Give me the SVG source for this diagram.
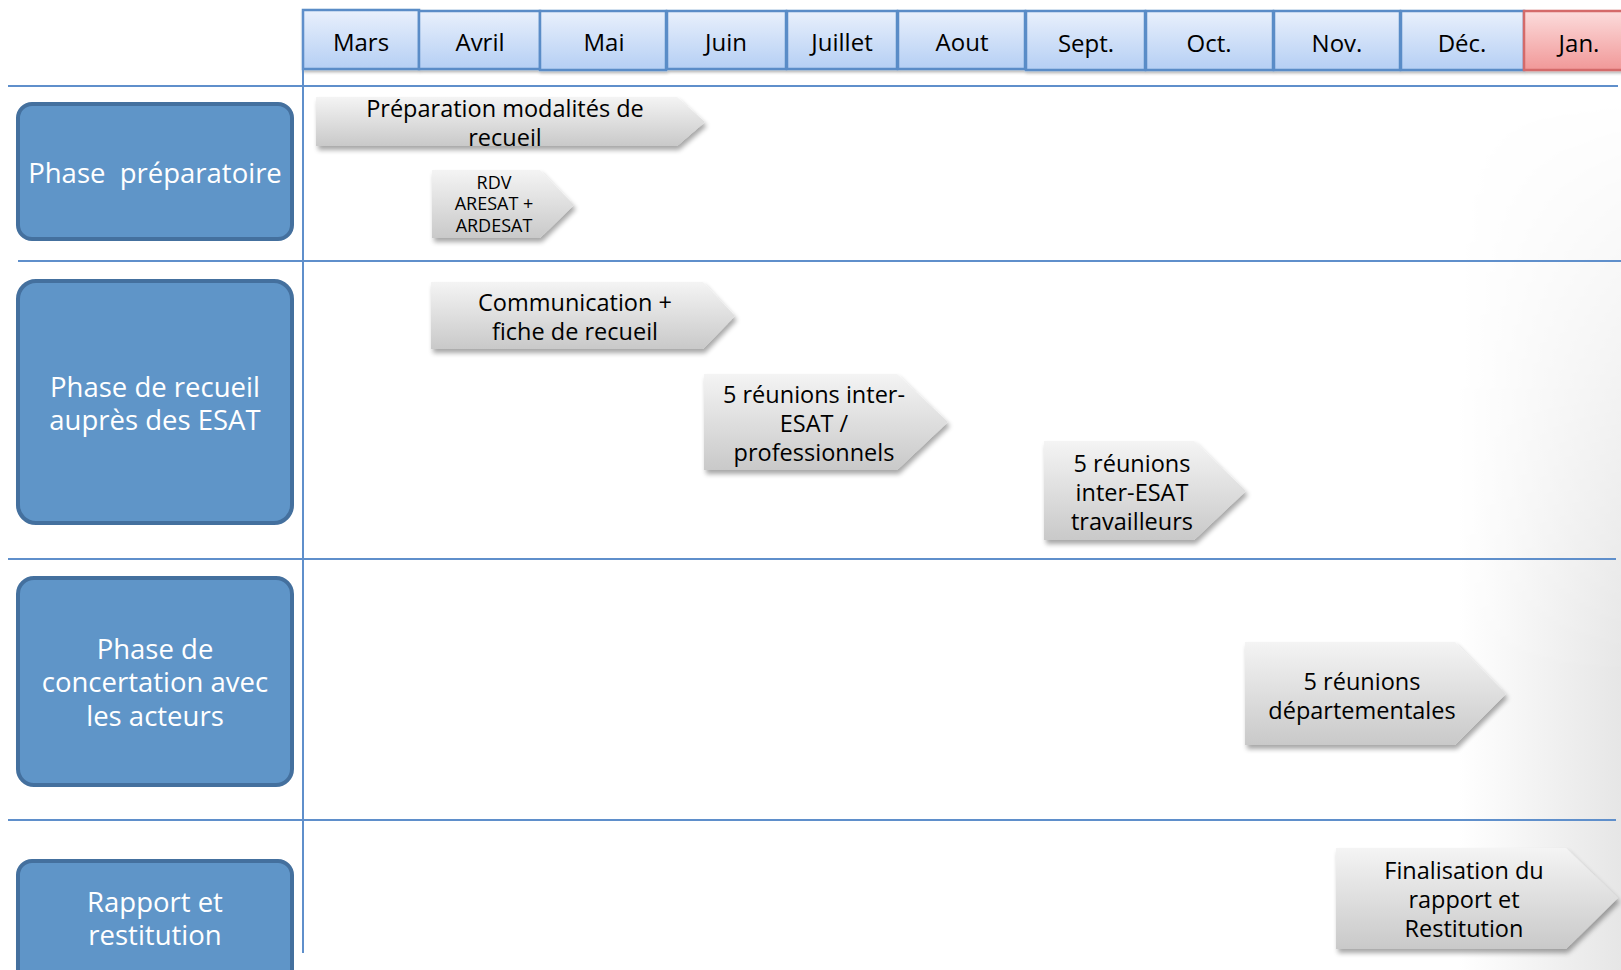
<svg xmlns="http://www.w3.org/2000/svg" width="1621" height="970" viewBox="0 0 1621 970">
<defs>
<linearGradient id="bg" x1="0" y1="0" x2="1" y2="0">
<stop offset="0.9" stop-color="#ffffff"/>
<stop offset="1" stop-color="#e6e6e6"/>
</linearGradient>
<linearGradient id="fade" x1="0" y1="0" x2="0" y2="1">
<stop offset="0.1" stop-color="#000"/>
<stop offset="0.7" stop-color="#fff"/>
</linearGradient>
<mask id="mk"><rect width="1621" height="970" fill="url(#fade)"/></mask>
<linearGradient id="cell" x1="0" y1="0" x2="0" y2="1">
<stop offset="0" stop-color="#e9f0fc"/>
<stop offset="1" stop-color="#b5cff4"/>
</linearGradient>
<linearGradient id="cellr" x1="0" y1="0" x2="0" y2="1">
<stop offset="0" stop-color="#fcdcdc"/>
<stop offset="1" stop-color="#f19898"/>
</linearGradient>
<linearGradient id="arr" x1="0" y1="0" x2="0" y2="1">
<stop offset="0" stop-color="#f4f4f4"/>
<stop offset="1" stop-color="#c9c9c9"/>
</linearGradient>
<filter id="sh" x="-10%" y="-10%" width="130%" height="140%">
<feGaussianBlur in="SourceAlpha" stdDeviation="2.5"/>
<feOffset dx="2" dy="4" result="b"/>
<feComponentTransfer><feFuncA type="linear" slope="0.35"/></feComponentTransfer>
<feMerge><feMergeNode/><feMergeNode in="SourceGraphic"/></feMerge>
</filter>
<filter id="sh2" x="-10%" y="-10%" width="130%" height="140%">
<feGaussianBlur in="SourceAlpha" stdDeviation="1.5"/>
<feOffset dx="1" dy="2" result="b"/>
<feComponentTransfer><feFuncA type="linear" slope="0.3"/></feComponentTransfer>
<feMerge><feMergeNode/><feMergeNode in="SourceGraphic"/></feMerge>
</filter>
</defs>
<style>
.t{font-family:"Open Sans","Noto Sans",sans-serif;text-anchor:middle;fill:#000}
.m{font-size:24px}
.a{font-size:23.5px}
.p{font-family:"Open Sans","Noto Sans",sans-serif;text-anchor:middle;fill:#fff;font-size:27.5px;white-space:pre}
.cell{fill:url(#cell);stroke:#5a8cc7;stroke-width:2.5}
.cellr{fill:url(#cellr);stroke:#d46a6a;stroke-width:2.5}
.phase{fill:#5f95c8;stroke:#44709e;stroke-width:4}
.arr{fill:url(#arr)}
.grid{stroke:#5f8fcb;stroke-width:2;fill:none}
</style>
<rect width="1621" height="970" fill="#ffffff"/>
<rect width="1621" height="970" fill="url(#bg)" mask="url(#mk)"/>

<g id="header" filter="url(#sh2)">
<rect class="cell" x="303" y="10" width="116" height="59"/>
<rect class="cell" x="419" y="11" width="121" height="58"/>
<rect class="cell" x="540" y="11" width="126" height="59"/>
<rect class="cell" x="667" y="11" width="119" height="58"/>
<rect class="cell" x="787" y="11" width="110" height="58"/>
<rect class="cell" x="898" y="11" width="127" height="58"/>
<rect class="cell" x="1026" y="11" width="119" height="59"/>
<rect class="cell" x="1146" y="11" width="127" height="59"/>
<rect class="cell" x="1274" y="11" width="126" height="59"/>
<rect class="cell" x="1401" y="11" width="123" height="59"/>
<rect class="cellr" x="1524" y="11" width="110" height="59"/>
</g>
<g id="months">
<text class="t m" x="361" y="51">Mars</text>
<text class="t m" x="480" y="51">Avril</text>
<text class="t m" x="604" y="51">Mai</text>
<text class="t m" x="726" y="51">Juin</text>
<text class="t m" x="842" y="51">Juillet</text>
<text class="t m" x="962" y="51">Aout</text>
<text class="t m" x="1086" y="52">Sept.</text>
<text class="t m" x="1209" y="52">Oct.</text>
<text class="t m" x="1337" y="52">Nov.</text>
<text class="t m" x="1462" y="52">Déc.</text>
<text class="t m" x="1579" y="52">Jan.</text>
</g>

<g id="connectors">
<line class="grid" x1="8" y1="86" x2="1618" y2="86"/>
<line class="grid" x1="18" y1="261" x2="1621" y2="261"/>
<line class="grid" x1="8" y1="559" x2="1616" y2="559"/>
<line class="grid" x1="8" y1="820" x2="1616" y2="820"/>
<line class="grid" x1="303" y1="10" x2="303" y2="953"/>
</g>

<g id="phase1">
<rect class="phase" x="18" y="104" width="274" height="135" rx="14"/>
<text class="p" x="155" y="183">Phase  préparatoire</text>
</g>
<g id="phase2">
<rect class="phase" x="18" y="281" width="274" height="242" rx="18"/>
<text class="p" x="155" y="397">Phase de recueil</text>
<text class="p" x="155" y="430">auprès des ESAT</text>
</g>
<g id="phase3">
<rect class="phase" x="18" y="578" width="274" height="207" rx="16"/>
<text class="p" x="155" y="659">Phase de</text>
<text class="p" x="155" y="692">concertation avec</text>
<text class="p" x="155" y="726">les acteurs</text>
</g>
<g id="phase4">
<rect class="phase" x="18" y="861" width="274" height="130" rx="14"/>
<text class="p" x="155" y="912">Rapport et</text>
<text class="p" x="155" y="945">restitution</text>
</g>

<g id="task1">
<path class="arr" filter="url(#sh)" d="M316,97 L677,97 L705,122 L677,146 L316,146 Z"/>
<text class="t a" x="505" y="117">Préparation modalités de</text>
<text class="t a" x="505" y="146">recueil</text>
</g>
<g id="task2">
<path class="arr" filter="url(#sh)" d="M432,170 L540,170 L574,205 L540,238 L432,238 Z"/>
<text class="t" font-size="18" x="494" y="189">RDV</text>
<text class="t" font-size="18" x="494" y="210">ARESAT +</text>
<text class="t" font-size="18" x="494" y="232">ARDESAT</text>
</g>
<g id="task3">
<path class="arr" filter="url(#sh)" d="M431,282 L703,282 L735,316 L703,349 L431,349 Z"/>
<text class="t a" x="575" y="311">Communication +</text>
<text class="t a" x="575" y="340">fiche de recueil</text>
</g>
<g id="task4">
<path class="arr" filter="url(#sh)" d="M704,374 L897,374 L948,422 L897,470 L704,470 Z"/>
<text class="t a" x="814" y="403">5 réunions inter-</text>
<text class="t a" x="814" y="432">ESAT /</text>
<text class="t a" x="814" y="461">professionnels</text>
</g>
<g id="task5">
<path class="arr" filter="url(#sh)" d="M1044,441 L1194,441 L1246,491 L1194,540 L1044,540 Z"/>
<text class="t a" x="1132" y="472">5 réunions</text>
<text class="t a" x="1132" y="501">inter-ESAT</text>
<text class="t a" x="1132" y="530">travailleurs</text>
</g>
<g id="task6">
<path class="arr" filter="url(#sh)" d="M1245,642 L1455,642 L1506,694 L1455,745 L1245,745 Z"/>
<text class="t a" x="1362" y="690">5 réunions</text>
<text class="t a" x="1362" y="719">départementales</text>
</g>
<g id="task7">
<path class="arr" filter="url(#sh)" d="M1336,848 L1566,848 L1618,898 L1566,949 L1336,949 Z"/>
<text class="t a" x="1464" y="879">Finalisation du</text>
<text class="t a" x="1464" y="908">rapport et</text>
<text class="t a" x="1464" y="937">Restitution</text>
</g>
</svg>
